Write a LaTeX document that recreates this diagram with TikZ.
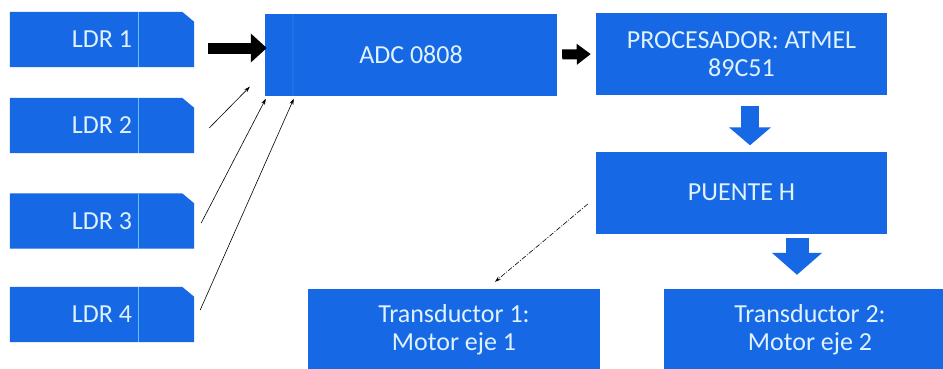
\documentclass[tikz,border=0pt]{standalone}
\usepackage{fontspec}
\setmainfont{Carlito}
\usetikzlibrary{calc,arrows.meta,backgrounds}
\definecolor{boxblue}{RGB}{22,104,228}
\definecolor{boxtext}{RGB}{222,242,255}
\definecolor{sepline}{RGB}{95,195,255}

\begin{document}
\begin{tikzpicture}[x=1pt,y=-1pt,
  blk/.style={fill=boxblue,text=boxtext,minimum width=292pt,minimum height=82pt,inner sep=0pt,
    align=center,font=\fontsize{26}{28}\selectfont},
  ldr/.style={blk,fill=none,minimum width=184pt,minimum height=55pt},
  fatarrow/.style={line width=11pt,-{Triangle[length=16pt,width=28pt]}},
  bluearrow/.style={boxblue,line width=18pt,-{Triangle[length=18pt,width=41pt]}},
  thinarrow/.style={line width=0.6pt,-{Stealth[length=6pt,width=4pt]}}]
\clip (0,0) rectangle (943,368);
\begin{scope}[on background layer]
  \fill[white] (0,0) rectangle (943,368);
\end{scope}
\foreach \i/\y in {1/39.5,2/125.5,3/221,4/314.5}{
  \node[ldr] (ldr\i) at (102,\y) {LDR \i};
  \begin{scope}[on background layer]
    \fill[boxblue] (ldr\i.south west) -- (ldr\i.north west) -- ($(ldr\i.north east)+(-12,0)$)
      -- ($(ldr\i.north east)+(0,10)$) -- (ldr\i.south east) -- cycle;
    \draw[sepline,line width=0.8pt] ($(ldr\i.south west)+(129,0)$) -- ++(0,-55);
  \end{scope}
}
\node[blk] (adc) at (411,54.5) {ADC 0808};
\draw[white,opacity=.06,line width=1.5pt] ($(adc.south west)+(28,0)$) -- ($(adc.north west)+(28,0)$);
\node[blk,minimum width=291pt] (proc) at (741.5,54) {PROCESADOR: ATMEL\\89C51};
\node[blk,minimum width=291pt] (puente) at (741.5,192.5) {PUENTE H};
\node[blk] (tr1) at (454,330) {Transductor 1:\\Motor eje 1};
\node[blk] (tr2) at (810,330) {Transductor 2:\\Motor eje 2};

\draw[fatarrow,shorten >=12pt] ([xshift=14pt,yshift=-8.5pt]ldr1.east) -- ([xshift=14pt,yshift=-8.5pt]ldr1.east -| adc.west);
\draw[line width=10pt,-{Triangle[length=14pt,width=20pt]},shorten <=5pt,shorten >=5pt] (adc.east) -- (proc.west);

\draw[bluearrow,shorten >=6pt] ([xshift=8.5pt,yshift=-11pt]proc.south) -- ([xshift=8.5pt]puente.north);
\coordinate (b2) at ($(puente.south)+(55.5,4)$);
\draw[bluearrow,line width=23pt,-{Triangle[length=22pt,width=49pt]},shorten >=14pt] (b2) -- (b2 |- tr2.north);

\draw[thinarrow] ($(ldr2.east)+(15,2.5)$) -- ($(adc.south west)+(-15,-9)$);
\draw[thinarrow] ($(ldr3.east)+(7,2)$) -- ($(adc.south west)+(1,3)$);
\draw[thinarrow] ($(ldr4.east)+(6,-4.5)$) -- ($(adc.south west)+(29,3)$);
\draw[thinarrow,dash pattern=on 5pt off 1.5pt on 1pt off 1.5pt] ($(puente.west)+(-8,11.5)$) -- ($(tr1.north)+(41,-7)$);
\end{tikzpicture}
\end{document}
